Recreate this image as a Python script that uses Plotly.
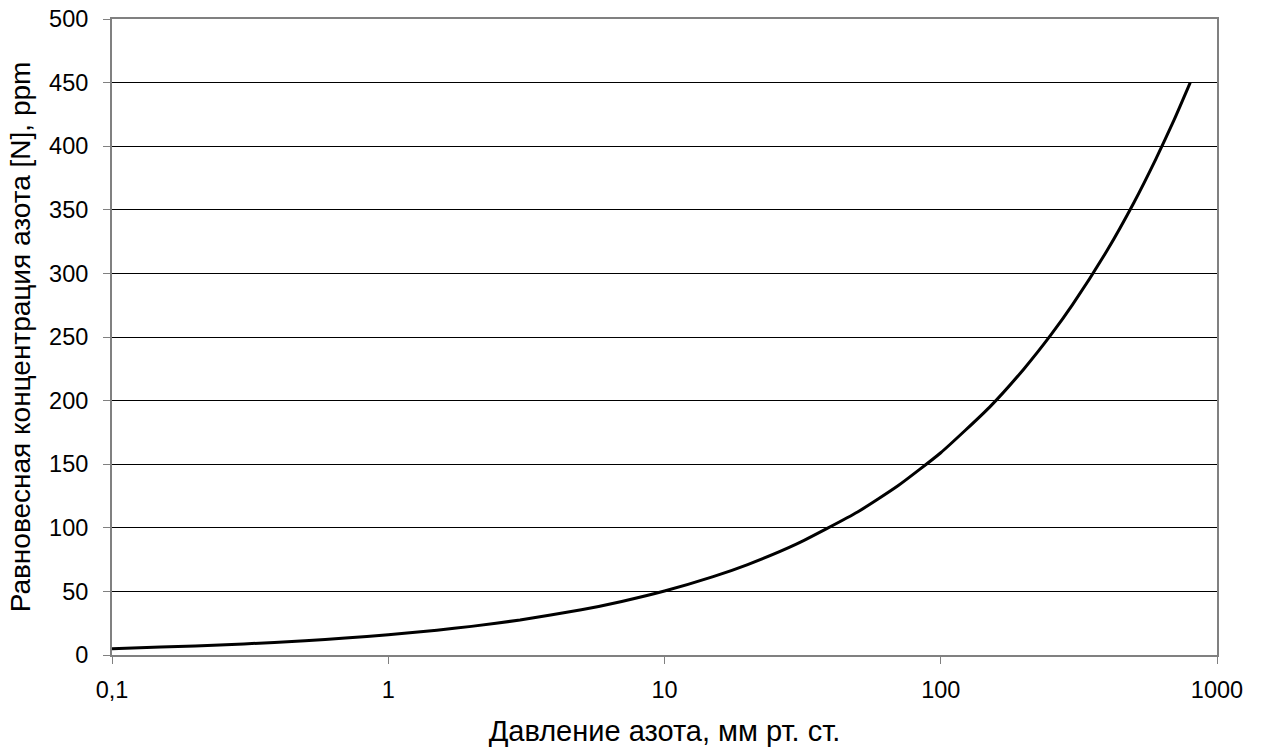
import plotly.graph_objects as go

# Nitrogen pressure (mm Hg) and equilibrium nitrogen concentration (ppm)
pressure = [0.1, 0.15, 0.2, 0.3, 0.5, 0.7, 1, 1.5, 2, 3, 5, 7, 10, 15, 20, 30,
            50, 70, 100, 150, 200, 250, 300, 400, 500, 600, 700, 800]
nitrogen = [5.0, 6.2, 7.1, 8.7, 11.2, 13.3, 15.9, 19.5, 22.5, 27.5, 35.5, 42.1,
            50.3, 61.6, 71.1, 87.1, 112.4, 133.0, 159.0, 194.7, 224.9, 251.4,
            275.4, 318.0, 355.6, 389.7, 420.9, 450.0]

x_tick_vals = [0.1, 1, 10, 100, 1000]
x_tick_text = ["0,1", "1", "10", "100", "1000"]
y_tick_vals = list(range(0, 501, 50))

font_family = "Liberation Sans, Arial, sans-serif"
tick_size = 23.5
title_size = 29

fig = go.Figure()
fig.add_trace(go.Scatter(
    x=pressure, y=nitrogen, mode="lines",
    line=dict(color="black", width=3, shape="spline", smoothing=0.5),
    showlegend=False, hoverinfo="skip",
))

fig.update_layout(
    width=1264, height=754,
    margin=dict(l=112, r=47, t=19, b=99, autoexpand=False),
    paper_bgcolor="white", plot_bgcolor="white",
    font=dict(family=font_family, size=tick_size, color="black"),
    xaxis=dict(
        type="log", range=[-1, 3], automargin=False,
        tickvals=x_tick_vals, ticktext=x_tick_text,
        tickfont=dict(size=tick_size),
        showgrid=False, zeroline=False,
        showline=True, linecolor="#808080", linewidth=2, mirror=True,
        ticks="outside", ticklen=7, tickcolor="#808080", tickwidth=1,
        ticklabelstandoff=6,
        title=dict(text="Давление азота, мм рт. ст.", font=dict(size=title_size), standoff=18),
    ),
    yaxis=dict(
        range=[0, 500], automargin=False, tickvals=y_tick_vals,
        tickfont=dict(size=tick_size),
        showgrid=True, gridcolor="black", gridwidth=1, zeroline=False,
        showline=True, linecolor="#808080", linewidth=2, mirror=True,
        ticks="outside", ticklen=7, tickcolor="#808080", tickwidth=1,
        ticklabelstandoff=10,
        title=dict(text="Равновесная концентрация азота [N], ppm", font=dict(size=28), standoff=10),
    ),
)

fig.write_html("out.html")
